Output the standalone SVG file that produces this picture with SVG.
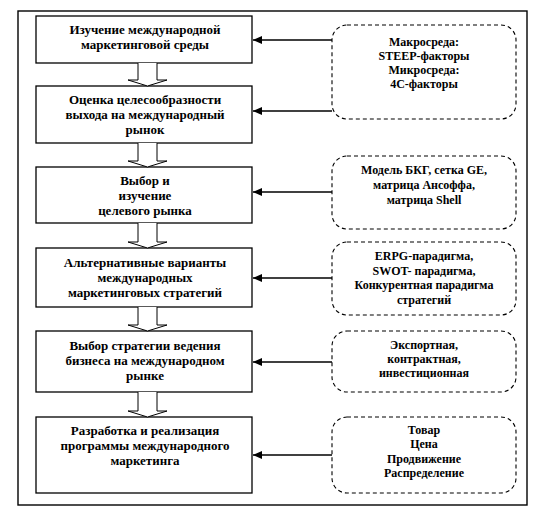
<svg xmlns="http://www.w3.org/2000/svg" width="548" height="510" viewBox="0 0 548 510">
<style>
.frame{fill:#fff;stroke:#000;stroke-width:1.4}
.box{fill:#fff;stroke:#000;stroke-width:1.3}
.dbox{fill:#fff;stroke:#000;stroke-width:1.1;stroke-dasharray:4 3}
.blk{fill:#fff;stroke:#000;stroke-width:1}
.ln{stroke:#000;stroke-width:1.3;fill:none}
text{font-family:"Liberation Serif","Times New Roman",serif;font-weight:bold;text-anchor:middle;fill:#000}
.t{font-size:13px}
.s{font-size:12px}
</style>
<defs>
<marker id="ah" markerWidth="10" markerHeight="8" refX="9" refY="4" orient="auto" markerUnits="userSpaceOnUse">
<path d="M0,0 L9,4 L0,8 Z" fill="#000"/>
</marker>
</defs>
<rect class="frame" x="18" y="11" width="509" height="494"/>

<g id="n1"><rect class="box" x="36" y="16" width="216" height="47"/>
<text class="t" x="145" y="34">Изучение международной</text>
<text class="t" x="145" y="49">маркетинговой среды</text></g>
<g id="n2"><rect class="box" x="36" y="86" width="216" height="57"/>
<text class="t" x="145" y="103.5">Оценка целесообразности</text>
<text class="t" x="145" y="118.5">выхода на международный</text>
<text class="t" x="145" y="133.5">рынок</text></g>
<g id="n3"><rect class="box" x="36" y="167" width="216" height="56"/>
<text class="t" x="145" y="184.5">Выбор и</text>
<text class="t" x="145" y="199.5">изучение</text>
<text class="t" x="145" y="214.5">целевого рынка</text></g>
<g id="n4"><rect class="box" x="36" y="248" width="216" height="59"/>
<text class="t" x="145" y="266.5">Альтернативные  варианты</text>
<text class="t" x="145" y="282">международных</text>
<text class="t" x="145" y="297">маркетинговых стратегий</text></g>
<g id="n5"><rect class="box" x="36" y="331" width="216" height="61"/>
<text class="t" x="145" y="349.5">Выбор стратегии ведения</text>
<text class="t" x="145" y="364.5">бизнеса на международном</text>
<text class="t" x="145" y="379.5">рынке</text></g>
<g id="n6"><rect class="box" x="36" y="417" width="216" height="76"/>
<text class="t" x="145" y="434.5">Разработка и реализация</text>
<text class="t" x="145" y="449.5">программы международного</text>
<text class="t" x="145" y="464.5">маркетинга</text></g>

<g id="nA"><rect class="dbox" x="332" y="25" width="184" height="94" rx="15"/>
<text class="s" x="424" y="46">Макросреда:</text>
<text class="s" x="424" y="60">STEEP-факторы</text>
<text class="s" x="424" y="74">Микросреда:</text>
<text class="s" x="424" y="88">4C-факторы</text></g>
<g id="nB"><rect class="dbox" x="332" y="156" width="184" height="73" rx="15"/>
<text class="s" x="424" y="174">Модель БКГ, сетка GE,</text>
<text class="s" x="424" y="189">матрица Ансоффа,</text>
<text class="s" x="424" y="204">матрица Shell</text></g>
<g id="nC"><rect class="dbox" x="332" y="242" width="184" height="73" rx="15"/>
<text class="s" x="424" y="260">ERPG-парадигма,</text>
<text class="s" x="424" y="274.5">SWOT- парадигма,</text>
<text class="s" x="424" y="289">Конкурентная парадигма</text>
<text class="s" x="424" y="303.5">стратегий</text></g>
<g id="nD"><rect class="dbox" x="332" y="331" width="184" height="61" rx="15"/>
<text class="s" x="424" y="349">Экспортная,</text>
<text class="s" x="424" y="363">контрактная,</text>
<text class="s" x="424" y="377">инвестиционная</text></g>
<g id="nE"><rect class="dbox" x="332" y="417" width="184" height="76" rx="15"/>
<text class="s" x="424" y="434">Товар</text>
<text class="s" x="424" y="448">Цена</text>
<text class="s" x="424" y="463">Продвижение</text>
<text class="s" x="424" y="477">Распределение</text></g>

<g id="connectors">
<line class="ln" x1="332" y1="40" x2="253" y2="40" marker-end="url(#ah)"/>
<line class="ln" x1="332" y1="111" x2="253" y2="111" marker-end="url(#ah)"/>
<line class="ln" x1="332" y1="192" x2="253" y2="192" marker-end="url(#ah)"/>
<line class="ln" x1="332" y1="278" x2="253" y2="278" marker-end="url(#ah)"/>
<line class="ln" x1="332" y1="362" x2="253" y2="362" marker-end="url(#ah)"/>
<line class="ln" x1="332" y1="455" x2="253" y2="455" marker-end="url(#ah)"/>
<path class="blk" d="M138,63 V80 H128 L147.5,86 L167,80 H157 V63"/>
<path class="blk" d="M138,143 V161 H128 L147.5,167 L167,161 H157 V143"/>
<path class="blk" d="M138,223 V242 H128 L147.5,248 L167,242 H157 V223"/>
<path class="blk" d="M138,307 V325 H128 L147.5,331 L167,325 H157 V307"/>
<path class="blk" d="M138,392 V411 H128 L147.5,417 L167,411 H157 V392"/>
</g>
</svg>
